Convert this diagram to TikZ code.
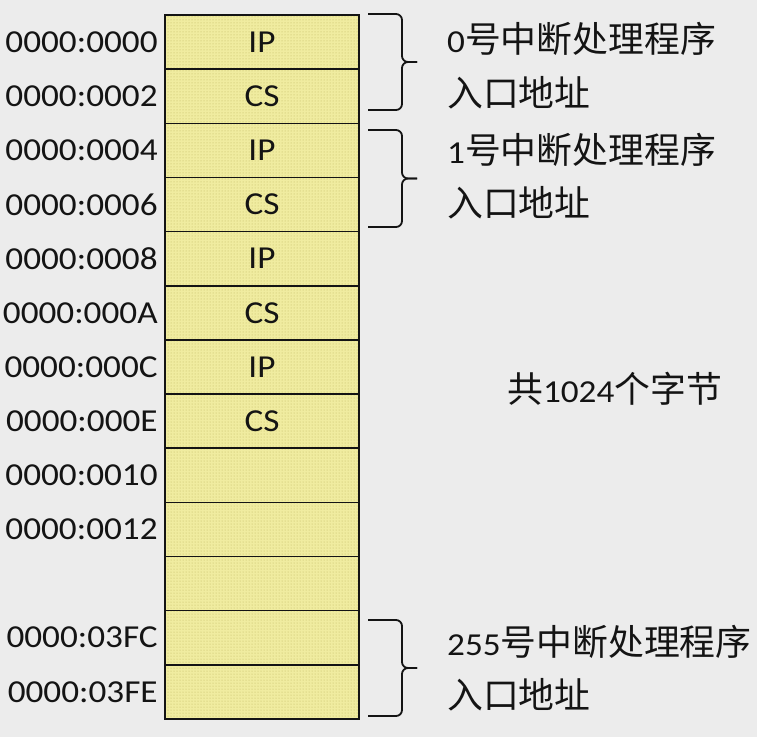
\documentclass[tikz,border=0pt]{standalone}
\usepackage{fontspec}
\setmainfont{Carlito}[FakeStretch=1.1]
\newfontfamily\cjk{Noto Sans CJK SC}[Scale=1.12]
\usetikzlibrary{patterns}
\definecolor{bgcol}{RGB}{236,236,236}
\definecolor{cellyellow}{RGB}{240,236,160}
\definecolor{dotcol}{RGB}{190,184,96}
\definecolor{inkcol}{RGB}{20,20,20}
\tikzset{
  cell/.style={fill=cellyellow,
    postaction={pattern=dots, pattern color=dotcol},
    postaction={draw=inkcol, line width=1.5pt},
    minimum width=194pt, minimum height=54.15pt, inner sep=0pt,
    font=\fontsize{32}{38}\selectfont, text=inkcol},
  addr/.style={anchor=east, inner sep=0pt, font=\fontsize{32}{38}\selectfont, text=inkcol},
  note/.style={anchor=base west, inner sep=0pt, font=\fontsize{32}{38}\selectfont, text=inkcol},
  bracepath/.style={draw=inkcol, line width=1.8pt, rounded corners=6pt}
}
\begin{document}
\begin{tikzpicture}[x=1pt,y=-1pt]
\fill[bgcol] (0,0) rectangle (757,737);
\useasboundingbox (0,0) rectangle (757,737);
% memory cells
\foreach \i/\t in {0/IP,1/CS,2/IP,3/CS,4/IP,5/CS,6/IP,7/CS,8/,9/,10/,11/,12/}{
  \node[cell] (c\i) at (262, {15+(\i+0.5)*54.15}) {\t};
}
% addresses
\foreach \i/\t in {0/0000:0000,1/0000:0002,2/0000:0004,3/0000:0006,4/0000:0008,5/0000:000A,6/0000:000C,7/0000:000E,8/0000:0010,9/0000:0012,11/0000:03FC,12/0000:03FE}{
  \node[addr] (a\i) at ([xshift=-7pt]c\i.west) {\t};
}
% braces
\foreach \top/\bot in {14/110, 130/227, 620/716}{
  \draw[bracepath] (368,\top) -- (402,\top) -- (402,{(\top+\bot)/2}) -- (417,{(\top+\bot)/2});
  \draw[bracepath] (368,\bot) -- (402,\bot) -- (402,{(\top+\bot)/2}) -- (417,{(\top+\bot)/2});
}
% notes
\node[note] (n0a) at (447,52) {0{\cjk 号中断处理程序}};
\node[note] (n0b) at (447,106) {{\cjk 入口地址}};
\node[note] (n1a) at (447,163) {1{\cjk 号中断处理程序}};
\node[note] (n1b) at (447,216) {{\cjk 入口地址}};
\node[note] (tot) at (507,402) {{\cjk 共}1024{\cjk 个字节}};
\node[note] (n2a) at (447,655) {255{\cjk 号中断处理程序}};
\node[note] (n2b) at (447,708) {{\cjk 入口地址}};
\end{tikzpicture}
\end{document}
